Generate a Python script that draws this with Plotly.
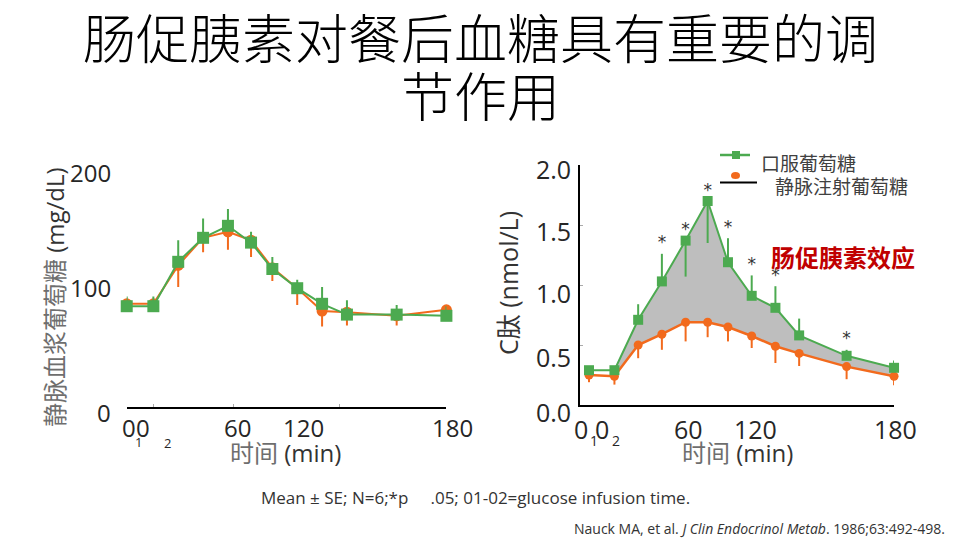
import plotly.graph_objects as go

# Data
time_min = [0, 15, 29, 43, 57, 70, 82, 96, 110, 124, 152, 180]

# left panel: venous plasma glucose (mg/dL)
glu_oral = [84, 84, 121, 141, 151, 137, 115, 99, 86, 77, 77, 76]
glu_oral_err = [8, 8, 18, 16, 14, 9, 10, 7, 14, 12, 8, 8]
glu_iv = [86, 86, 118, 141, 146, 139, 116, 99, 80, 79, 76, 81]
glu_iv_err = [3, 3, 18, 12, 15, 14, 11, 14, 13, 11, 8, 3]

# right panel: C-peptide (nmol/L)
cp_oral = [0.29, 0.29, 0.71, 1.03, 1.37, 1.70, 1.19, 0.91, 0.81, 0.58, 0.41, 0.31]
cp_oral_err_up = [0.03, 0.03, 0.13, 0.23, 0.0, 0.0, 0.20, 0.17, 0.18, 0.14, 0.05, 0.06]
cp_oral_err_down = [0, 0, 0, 0, 0.30, 0.35, 0, 0, 0, 0, 0, 0]
cp_iv = [0.25, 0.24, 0.50, 0.59, 0.69, 0.69, 0.65, 0.575, 0.49, 0.43, 0.32, 0.24]
cp_iv_err = [0.06, 0.07, 0.11, 0.13, 0.16, 0.125, 0.12, 0.10, 0.14, 0.105, 0.105, 0.075]
signif = [False, False, False, True, True, True, True, True, True, False, True, False]

GREEN = '#4CAA50'
ORANGE = '#F26A1D'
FILL = '#BEBEBE'
TXT = '#262626'

fig = go.Figure()

# ---- left panel
fig.add_trace(go.Scatter(
    x=time_min, y=glu_iv, mode='lines+markers', xaxis='x', yaxis='y',
    line=dict(color=ORANGE, width=2),
    marker=dict(symbol='circle', size=11, color=ORANGE),
    error_y=dict(type='data', array=[0] * len(glu_iv), arrayminus=glu_iv_err,
                 symmetric=False, color=ORANGE, thickness=2, width=0),
    cliponaxis=False, showlegend=False))
fig.add_trace(go.Scatter(
    x=time_min, y=glu_oral, mode='lines+markers', xaxis='x', yaxis='y',
    line=dict(color=GREEN, width=2),
    marker=dict(symbol='square', size=12, color=GREEN),
    error_y=dict(type='data', array=glu_oral_err, arrayminus=[0] * len(glu_oral),
                 symmetric=False, color=GREEN, thickness=2, width=0),
    cliponaxis=False, showlegend=False))

# ---- right panel: shaded incretin effect between the curves
fig.add_trace(go.Scatter(
    x=time_min[1:], y=cp_iv[1:], mode='lines', xaxis='x2', yaxis='y2',
    line=dict(width=0), hoverinfo='skip', showlegend=False))
fig.add_trace(go.Scatter(
    x=time_min[1:], y=cp_oral[1:], mode='lines', xaxis='x2', yaxis='y2',
    line=dict(width=0), fill='tonexty', fillcolor=FILL,
    hoverinfo='skip', showlegend=False))

fig.add_trace(go.Scatter(
    x=time_min, y=cp_iv, mode='lines+markers', xaxis='x2', yaxis='y2',
    line=dict(color=ORANGE, width=2.5),
    marker=dict(symbol='circle', size=9, color=ORANGE),
    error_y=dict(type='data', array=[0] * len(cp_iv), arrayminus=cp_iv_err,
                 symmetric=False, color=ORANGE, thickness=2, width=0),
    cliponaxis=False, showlegend=False))
fig.add_trace(go.Scatter(
    x=time_min, y=cp_oral, mode='lines+markers', xaxis='x2', yaxis='y2',
    line=dict(color=GREEN, width=2),
    marker=dict(symbol='square', size=10, color=GREEN),
    error_y=dict(type='data', array=cp_oral_err_up, arrayminus=cp_oral_err_down,
                 symmetric=False, color=GREEN, thickness=2, width=0),
    cliponaxis=False, showlegend=False))

# significance stars above the oral curve
star_x = [t for t, s in zip(time_min, signif) if s]
star_y = [v + e + 0.08 for v, e, s in zip(cp_oral, cp_oral_err_up, signif) if s]
fig.add_trace(go.Scatter(
    x=star_x, y=star_y, mode='text', text=['*'] * len(star_x),
    textfont=dict(size=17, color='#333333', family='DejaVu Sans'),
    xaxis='x2', yaxis='y2', cliponaxis=False, showlegend=False, hoverinfo='skip'))

fig.update_layout(
    width=960, height=540,
    margin=dict(l=0, r=0, t=0, b=0),
    paper_bgcolor='white', plot_bgcolor='white',
    font=dict(family='Open Sans, Noto Sans CJK SC', color=TXT),
    xaxis=dict(domain=[0.132, 0.465], range=[0, 180], showgrid=False, zeroline=False,
               showline=True, linecolor='black', linewidth=2,
               tickvals=[15, 60, 120], ticks='inside', ticklen=3, tickcolor='#aaaaaa',
               showticklabels=False),
    yaxis=dict(domain=[0.2463, 0.6907], range=[0, 200], showgrid=False, zeroline=False,
               showline=False, showticklabels=False),
    xaxis2=dict(domain=[0.6042, 0.9313], range=[-5.3, 180], showgrid=False, zeroline=False,
                showline=True, linecolor='black', linewidth=2, ticks='',
                showticklabels=False, anchor='y2'),
    yaxis2=dict(domain=[0.25, 0.6944], range=[0, 2], showgrid=False, zeroline=False,
                showline=True, linecolor='black', linewidth=2, anchor='x2',
                tickvals=[0.5, 1.0, 1.5], ticks='inside', ticklen=3, tickcolor='#aaaaaa',
                showticklabels=False),
)

ann = []


def txt(x, y, s, size, color=TXT, xanchor='center', family=None, weight=None, angle=0):
    f = dict(size=size, color=color)
    if family:
        f['family'] = family
    if weight:
        f['weight'] = weight
    ann.append(dict(x=x / 960, y=1 - y / 540, xref='paper', yref='paper', text=s,
                    showarrow=False, xanchor=xanchor, yanchor='middle', font=f,
                    textangle=angle))


LIGHT = '<span style="color:#6E6E6E">%s</span>'

# title
txt(480, 36, '肠促胰素对餐后血糖具有重要的调', 53, color='black',
    family='Noto Sans CJK SC', weight=300)
txt(480, 94, '节作用', 53, color='black', family='Noto Sans CJK SC', weight=300)

# left tick labels
for lab, yy in [('200', 172), ('100', 287), ('0', 412)]:
    txt(113, yy, lab, 24, xanchor='right')
for lab, xx in [('0', 129), ('0', 143), ('60', 237), ('120', 303), ('180', 452)]:
    txt(xx, 427, lab, 24)
txt(138, 442, '1', 13)
txt(167, 443, '2', 13)
txt(54, 297, LIGHT % '静脉血浆葡萄糖' + ' (mg/dL)', 24, color='#333333', angle=-90)
txt(285, 452, LIGHT % '时间' + ' (min)', 24, color='#333333')

# right tick labels
for lab, yy in [('2.0', 169), ('1.5', 231), ('1.0', 293), ('0.5', 357), ('0.0', 412)]:
    txt(573, yy, lab, 25, xanchor='right')
for lab, xx in [('0', 581), ('0', 602), ('60', 688), ('120', 755), ('180', 895)]:
    txt(xx, 429, lab, 25)
txt(594, 440, '1', 14)
txt(616, 440, '2', 14)
txt(508, 283, 'C肽 (nmol/L)', 25, color='#333333', angle=-90)
txt(737, 452, LIGHT % '时间' + ' (min)', 24, color='#333333')

# legend (drawn by hand to match the slide)
txt(759, 164, '口服葡萄糖', 19, color='#404040', xanchor='left')
txt(773, 187, '静脉注射葡萄糖', 19, color='#404040', xanchor='left')
txt(769, 257, '<b>肠促胰素效应</b>', 24, color='#C00000', xanchor='left',
    family='Noto Sans CJK SC')

# footnotes
txt(259, 497, 'Mean ± SE; N=6;*p     .05; 01-02=glucose infusion time.', 17,
    color='#333333', xanchor='left')
txt(947, 528, 'Nauck MA, et al. <i>J Clin Endocrinol Metab</i>. 1986;63:492-498.', 14,
    color='#333333', xanchor='right')

fig.update_layout(annotations=ann)

fig.add_shape(type='line', xref='paper', yref='paper',
              x0=720 / 960, x1=750 / 960, y0=1 - 155 / 540, y1=1 - 155 / 540,
              line=dict(color=GREEN, width=2.5))
fig.add_shape(type='rect', xref='paper', yref='paper',
              x0=732 / 960, x1=740 / 960, y0=1 - 151 / 540, y1=1 - 159 / 540,
              line=dict(width=0), fillcolor=GREEN)
fig.add_shape(type='line', xref='paper', yref='paper',
              x0=720 / 960, x1=757 / 960, y0=1 - 182.5 / 540, y1=1 - 182.5 / 540,
              line=dict(color='black', width=2))
fig.add_shape(type='circle', xref='paper', yref='paper',
              x0=731 / 960, x1=740 / 960, y0=1 - 172 / 540, y1=1 - 179 / 540,
              line=dict(width=0), fillcolor=ORANGE)

# drop the browser's default page margin so the 960x540 figure fills the window
fig.write_html("out.html", config={'displayModeBar': False},
               post_script="document.body.style.margin='0';")
